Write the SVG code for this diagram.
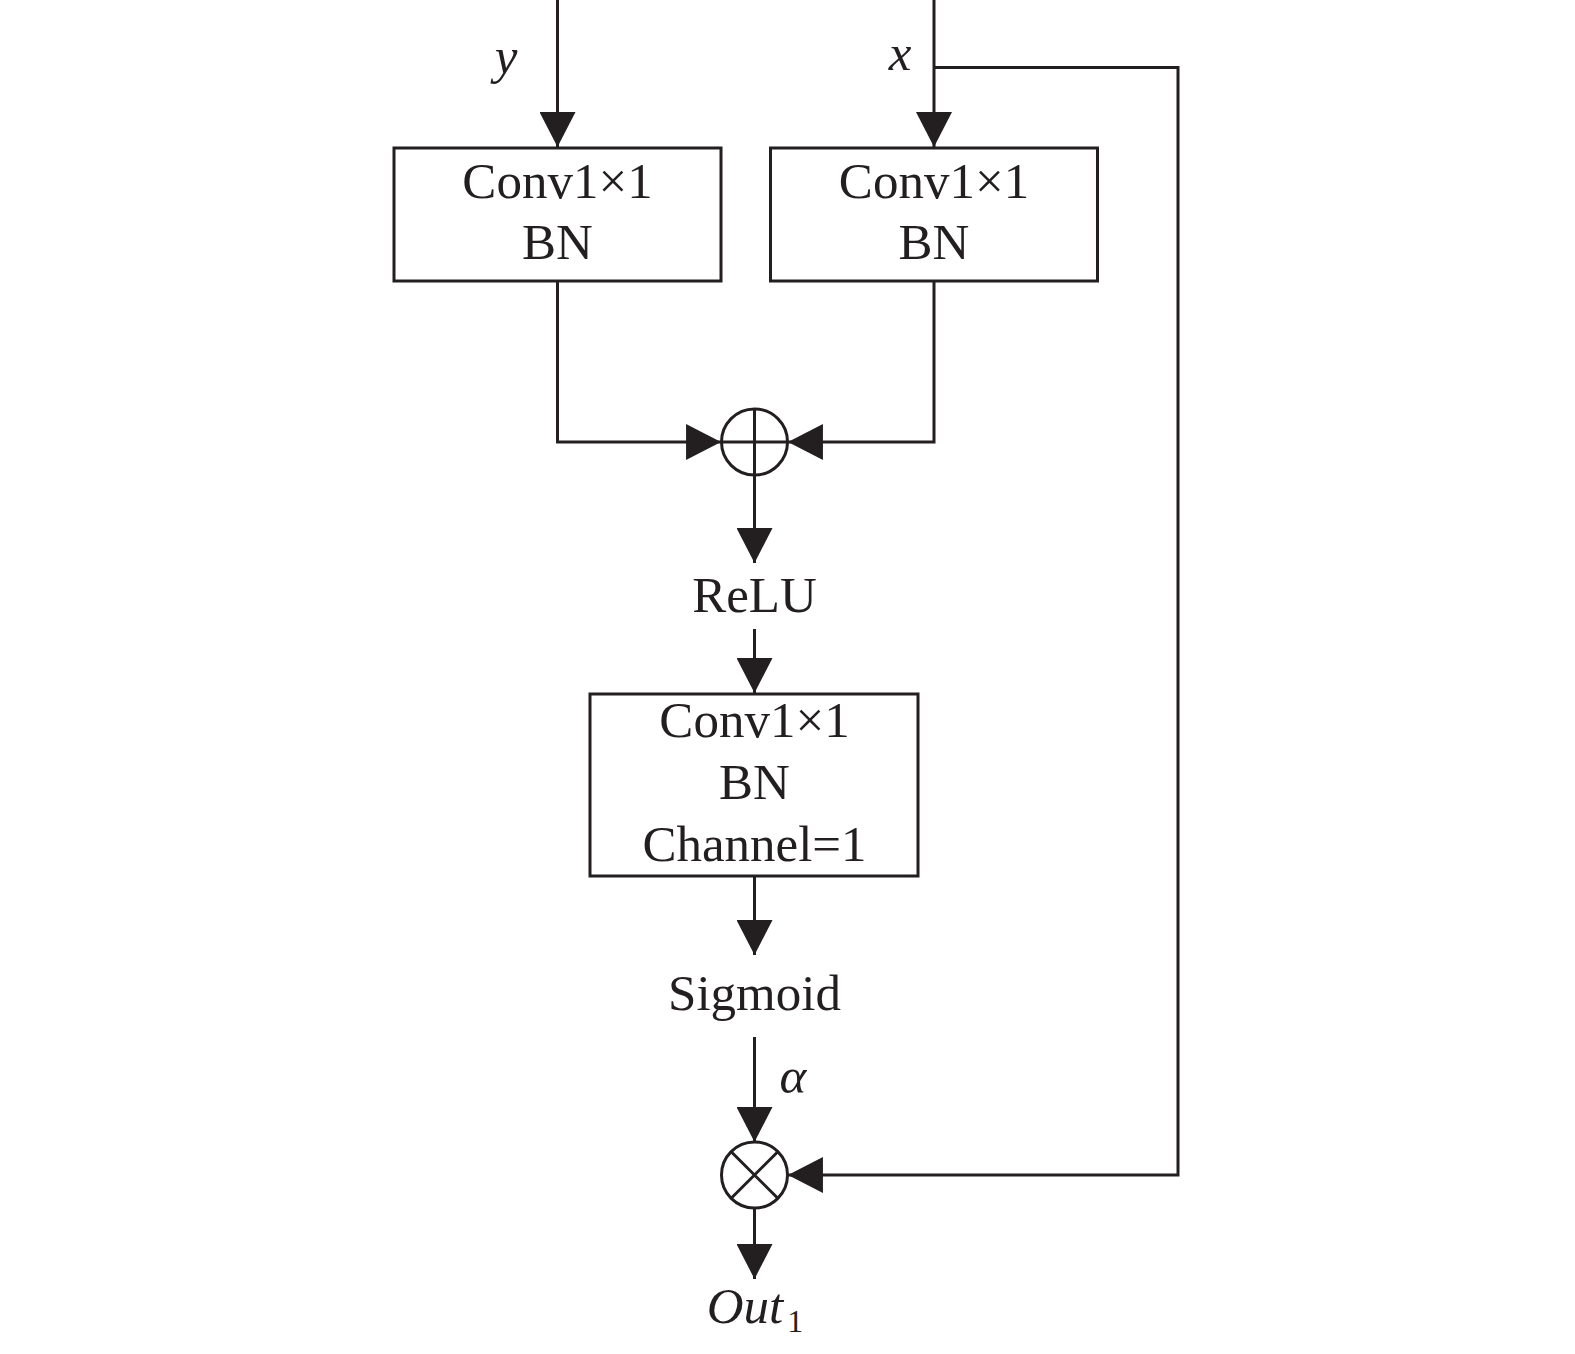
<svg xmlns="http://www.w3.org/2000/svg" width="1575" height="1354" viewBox="0 0 1575 1354">
<style>
.ln{fill:none;stroke:#231f20;stroke-width:3}
.box{fill:#fff;stroke:#231f20;stroke-width:3}
.t{font-family:"Liberation Serif","Times New Roman",serif;font-size:51px;fill:#231f20;text-anchor:middle}
.i{font-style:italic}
</style>
<defs>
<marker id="ah" markerUnits="userSpaceOnUse" markerWidth="36" markerHeight="36" viewBox="0 0 34 34" refX="33" refY="17" orient="auto">
<path d="M0,0 L33,17 L0,34 Z" fill="#231f20"/>
</marker>
</defs>
<rect width="1575" height="1354" fill="#fff"/>
<g id="connectors">
<path class="ln" d="M557.5,0 V147" marker-end="url(#ah)"/>
<path class="ln" d="M934,0 V147" marker-end="url(#ah)"/>
<path class="ln" d="M934,67.5 H1178 V1175 H788" marker-end="url(#ah)"/>
<path class="ln" d="M557.5,281 V442 H721" marker-end="url(#ah)"/>
<path class="ln" d="M934,281 V442 H788" marker-end="url(#ah)"/>
<path class="ln" d="M754.5,475 V563" marker-end="url(#ah)"/>
<path class="ln" d="M754.5,629 V693" marker-end="url(#ah)"/>
<path class="ln" d="M754.5,876 V955" marker-end="url(#ah)"/>
<path class="ln" d="M754.5,1037 V1142" marker-end="url(#ah)"/>
<path class="ln" d="M754.5,1208 V1279" marker-end="url(#ah)"/>
</g>
<g id="label-y"><text class="t i" x="506" y="73">y</text></g>
<g id="label-x"><text class="t i" x="900" y="70">x</text></g>
<g id="conv-y">
<rect class="box" x="394" y="148" width="327" height="133"/>
<text class="t" x="557.5" y="198">Conv1×1</text>
<text class="t" x="557.5" y="259">BN</text>
</g>
<g id="conv-x">
<rect class="box" x="770.5" y="148" width="327" height="133"/>
<text class="t" x="934" y="198">Conv1×1</text>
<text class="t" x="934" y="259">BN</text>
</g>
<g id="add">
<circle class="ln" cx="754.5" cy="442" r="33"/>
<path class="ln" d="M721.5,442 H787.5 M754.5,409 V475"/>
</g>
<g id="relu"><text class="t" x="754.5" y="612">ReLU</text></g>
<g id="conv3">
<rect class="box" x="590" y="694" width="328" height="182"/>
<text class="t" x="754.5" y="737">Conv1×1</text>
<text class="t" x="754.5" y="799">BN</text>
<text class="t" x="754.5" y="861">Channel=1</text>
</g>
<g id="sigmoid"><text class="t" x="754.5" y="1010">Sigmoid</text></g>
<g id="label-alpha"><text class="t i" x="793" y="1093">α</text></g>
<g id="mul">
<circle class="ln" cx="754.5" cy="1175" r="33"/>
<path class="ln" d="M731.2,1151.7 L777.8,1198.3 M777.8,1151.7 L731.2,1198.3"/>
</g>
<g id="out"><text class="t i" x="755" y="1323">Out<tspan font-size="32" font-style="normal" dx="4" dy="9">1</tspan></text></g>
</svg>
